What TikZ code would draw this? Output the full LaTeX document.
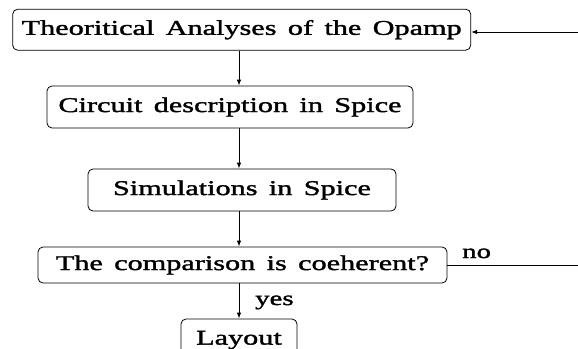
\documentclass[tikz,border=0pt]{standalone}
\usepackage{fontspec}
\usetikzlibrary{arrows.meta}
% wide, slightly emboldened serif face with roomy word gaps for every label
\newfontfamily\chartfont[FakeStretch=1.44,FakeBold=1.6,WordSpace=1.5]{Liberation Serif}

\begin{document}
\begin{tikzpicture}[x=1pt,y=-1pt,
  stepbox/.style={draw, rounded corners=5pt, line width=0.8pt, inner sep=0pt,
    font=\chartfont\fontsize{21}{24}\selectfont},
  flow/.style={line width=0.9pt, -{Latex[length=6pt,width=4.5pt]}},
  tag/.style={anchor=base west, inner sep=0pt, font=\chartfont\fontsize{20}{22}\selectfont}]
  \clip (0,0) rectangle (578,348);

  % process boxes
  \node[stepbox, minimum width=458pt, minimum height=41pt] (theory) at (241.7,29.7) {Theoritical Analyses of the Opamp};
  \node[stepbox, minimum width=366pt, minimum height=42pt] (circuit) at (230,107) {Circuit description in Spice};
  \node[stepbox, minimum width=308pt, minimum height=42pt] (sim) at (242,190) {Simulations in Spice};
  \node[stepbox, minimum width=409pt, minimum height=36pt] (cmp) at (242.5,265) {The comparison is coeherent?};
  \node[stepbox, minimum width=116pt, minimum height=42pt] (layout) at (239,340) {Layout};

  % main vertical axis of the chart and the loop-back ends at the right margin
  \coordinate (axis) at (239,0);
  \coordinate (backin) at (578,32);
  \coordinate (noend) at (578,265);

  % downward flow
  \draw[flow] (theory.south -| axis) -- (circuit.north -| axis);
  \draw[flow] (circuit.south -| axis) -- (sim.north -| axis);
  \draw[flow] (sim.south -| axis) -- (cmp.north -| axis);
  \draw[flow] (cmp.south -| axis) -- (layout.north -| axis);

  % decision branches
  \draw[line width=0.8pt] (cmp.east) -- (noend);
  \draw[flow] (backin) -- (theory.east |- backin);

  \node[tag] (yes) at (255,305) {yes};
  \node[tag] (no) at (462,258) {no};
\end{tikzpicture}
\end{document}
